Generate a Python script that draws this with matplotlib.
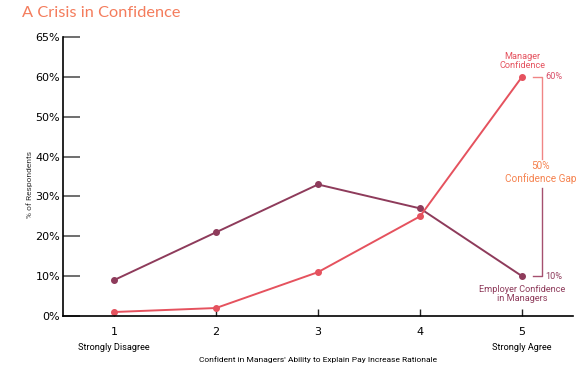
import matplotlib
matplotlib.use("Agg")
from matplotlib import pyplot as plt

# survey scale positions and answers (% of respondents)
scale = [1, 2, 3, 4, 5]
manager = [1, 2, 11, 25, 60]
employer = [9, 21, 33, 27, 10]
ytick_vals = [0, 10, 20, 30, 40, 50, 60, 70]
ytick_labels = ["0%", "10%", "20%", "30%", "40%", "50%", "60%", "65%"]

red = "#E5525E"
maroon = "#8E3B5B"
orange = "#F47C5C"

fig = plt.figure(figsize=(5.84, 3.8), dpi=100)
ax = fig.add_axes([63/584, 1 - 316/380, (573 - 63)/584, (316 - 37)/380])

ax.plot(scale, employer, '-o', color=maroon, lw=1.4, ms=4)
ax.plot(scale, manager, '-o', color=red, lw=1.4, ms=4)

ax.set_xlim(0.5, 5.5)
ax.set_ylim(0, 70)
ax.set_yticks(ytick_vals)
ax.set_yticklabels(ytick_labels, fontsize=8)
ax.set_xticks(scale)
ax.set_xticklabels([str(s) for s in scale], fontsize=8)
ax.tick_params(axis='y', direction='in', length=12, width=1.2, color='#555555', pad=2)
ax.tick_params(axis='x', direction='in', length=5, width=1, color='#222222', pad=8)
for s in ['top', 'right']:
    ax.spines[s].set_visible(False)
ax.spines['left'].set_linewidth(1.2)
ax.spines['bottom'].set_linewidth(1.2)

ax.text(1, -7.8, "Strongly Disagree", ha='center', va='center', fontsize=6.6, family='Roboto')
ax.text(5, -7.8, "Strongly Agree", ha='center', va='center', fontsize=6.6, family='Roboto')
ax.set_xlabel("Confident in Managers' Ability to Explain Pay Increase Rationale",
              fontsize=6, family='Roboto', labelpad=14)
fig.text(30/584, 1 - 184/380, "% of Respondents", rotation=90, ha='center', va='center',
         fontsize=6, family='Roboto', color='#333333')

fig.text(22/584, 1 - 13/380, "A Crisis in Confidence", ha='left', va='center',
         fontsize=11.8, color=orange, family='Lato')

# series labels
ax.text(5, 64, "Manager\nConfidence", ha='center', va='center', fontsize=6.6,
        color=red, family='Roboto', linespacing=1.1)
ax.text(5, 5.5, "Employer Confidence\nin Managers", ha='center', va='center', fontsize=6.6,
        color=maroon, family='Roboto', linespacing=1.1)

# gap bracket
ax.plot([5.108, 5.196, 5.196], [60, 60, 39.5], color="#F08585", lw=1, clip_on=False)
ax.plot([5.196, 5.196, 5.108], [32, 10, 10], color="#A5506F", lw=1, clip_on=False)
ax.text(5.225, 60, "60%", ha='left', va='center', fontsize=6.6, color="#D9506A", family='Roboto')
ax.text(5.225, 10, "10%", ha='left', va='center', fontsize=6.6, color=maroon, family='Roboto')
ax.text(5.18, 36, "50%\nConfidence Gap", ha='center', va='center', fontsize=7.2,
        color="#F5824F", family='Roboto', linespacing=1.2, clip_on=False)

fig.savefig("out.png", dpi=100)
